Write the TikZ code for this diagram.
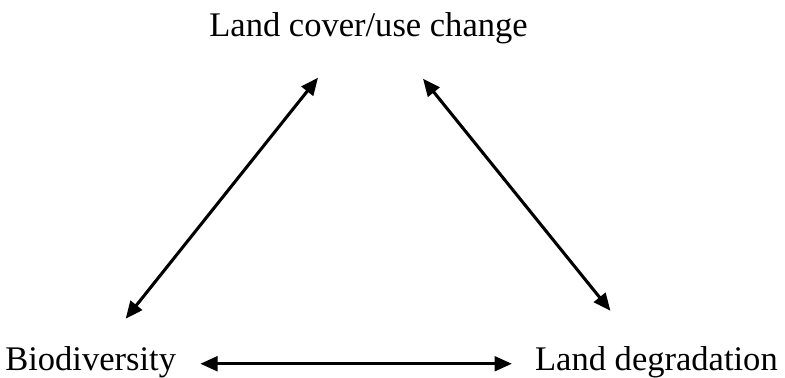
\documentclass[tikz,border=0pt]{standalone}
\usepackage{fontspec}
\setmainfont{Liberation Serif}
\usetikzlibrary{arrows.meta, calc}

\begin{document}
\begin{tikzpicture}[
  x=0.75pt, y=-0.75pt,
  lbl/.style={inner sep=0pt, font=\fontsize{25.9}{30}\selectfont},
  arr/.style={{Triangle[length=13pt, width=11pt]}-{Triangle[length=13pt, width=11pt]},
              line width=2.3pt}
]
  \useasboundingbox (0,0) rectangle (785,378);
  % the three factors
  \node[lbl, anchor=base] (lcc) at (368.5,37) {Land cover/use change};
  \node[lbl, anchor=base west] (bio) at (5,370) {Biodiversity};
  \node[lbl, anchor=base east] (deg) at (778,370) {Land degradation};

  % arrow ends
  \coordinate (lccL) at ($(lcc.south)+(-50.5,33)$);
  \coordinate (lccR) at ($(lcc.south)+(54.5,34)$);
  \coordinate (bioT) at ($(bio.north)+(35,-27)$);
  \coordinate (degT) at ($(deg.north)+(-46,-35)$);

  \draw[arr] (bioT) -- (lccL);
  \draw[arr] (lccR) -- (degT);
  \draw[arr] ($(bio.east)+(24,2)$) -- ($(deg.west)+(-23,2)$);
\end{tikzpicture}
\end{document}
